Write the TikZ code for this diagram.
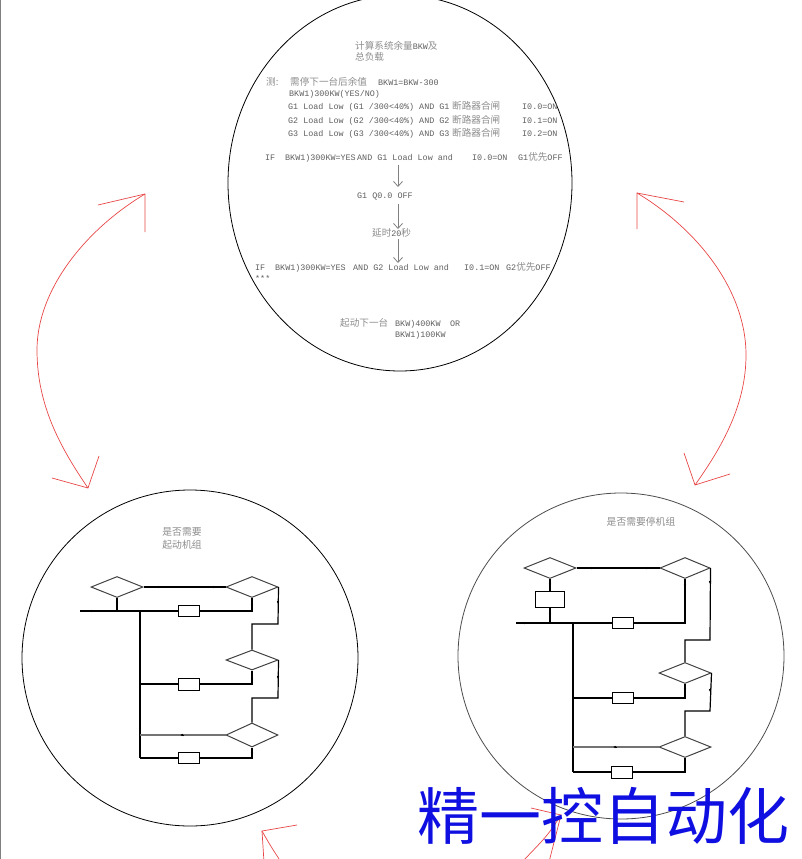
\documentclass[tikz,border=0pt]{standalone}
\usepackage{fontspec}
\setmainfont{Liberation Mono}
\newfontfamily\cjk{Noto Sans CJK SC}
\usetikzlibrary{arrows.meta,shapes.geometric}
\definecolor{txt}{RGB}{95,95,95}
\definecolor{ltxt}{RGB}{140,140,140}
\definecolor{arrred}{RGB}{232,70,70}
\definecolor{wmblue}{RGB}{15,15,225}
\newcommand\zh[1]{{\cjk\fontsize{9.6pt}{12pt}\selectfont\color{ltxt}#1}}
\begin{document}
\begin{tikzpicture}[x=1pt,y=-1pt,
  txtl/.style={anchor=base west,inner sep=0pt,text=txt,font=\fontsize{8.4pt}{10pt}\selectfont},
  ttl/.style={inner sep=0pt,text=ltxt,font=\cjk\fontsize{9.8pt}{13pt}\selectfont,align=center},
  garrow/.style={draw=gray,line width=0.8pt,-{Straight Barb[length=5pt,width=9pt]}},
  redln/.style={draw=arrred,line width=0.7pt},
  fl/.style={draw=black,line width=1.2pt},
  dia/.style={diamond,draw=black!75,line width=1pt,inner sep=0pt,minimum width=52pt,minimum height=21pt},
  bx/.style={rectangle,draw=black,line width=1pt,inner sep=0pt,minimum width=21pt,minimum height=11pt,fill=white},
  mk/.style={draw=black,line width=0.5pt,-{Latex[length=3pt,width=2.6pt]}}
]
\useasboundingbox (0,0) rectangle (802,859);
\begin{scope}
\clip (0,0) rectangle (802,859);
% left border
\draw[gray,line width=1.2pt] (0.6,0) -- (0.6,859);

% ---------- circles ----------
\draw[black,line width=0.8pt] (400,183) ellipse [x radius=172pt,y radius=188pt];
\draw[black,line width=0.8pt] (190,658) circle [radius=168pt];
\draw[black!70,line width=0.8pt] (621,656) circle [radius=163pt];

% ---------- top circle text ----------
\node[txtl] (t1) at (355,49) {\zh{计算系统余量}BKW\zh{及}};
\node[txtl] (t2) at (355,61) {\zh{总负载}};
\node[txtl] (t3a) at (266,85.5) {\zh{测:}};
\node[txtl] (t3b) at (290,85.5) {\zh{需停下一台后余值}};
\node[txtl] (t3c) at (378,85.5) {BKW1=BKW-300};
\node[txtl] (t4) at (289,96) {BKW1)300KW(YES/NO)};
\node[txtl] (t5a) at (288,109.5) {G1 Load Low (G1 /300<40\%) AND G1};
\node[txtl] (t5b) at (452,109.5) {\zh{断路器合闸}};
\node[txtl] (t5c) at (522,109.5) {I0.0=ON};
\node[txtl] (t6a) at (288,123.5) {G2 Load Low (G2 /300<40\%) AND G2};
\node[txtl] (t6b) at (452,123.5) {\zh{断路器合闸}};
\node[txtl] (t6c) at (522,123.5) {I0.1=ON};
\node[txtl] (t7a) at (288,136.5) {G3 Load Low (G3 /300<40\%) AND G3};
\node[txtl] (t7b) at (452,136.5) {\zh{断路器合闸}};
\node[txtl] (t7c) at (522,136.5) {I0.2=ON};

\node[txtl] (i1a) at (265,160.5) {IF};
\node[txtl] (i1b) at (285,160.5) {BKW1)300KW=YES};
\node[txtl] (i1c) at (357,160.5) {AND G1 Load Low and};
\node[txtl] (i1d) at (472,160.5) {I0.0=ON};
\node[txtl] (i1e) at (518,160.5) {G1\zh{优先}OFF};

\node[txtl] (q1) at (357,198.5) {G1 Q0.0 OFF};
\node[txtl] (dl) at (372,236.5) {\zh{延时}20\zh{秒}};

\node[txtl] (i2a) at (255,270.5) {IF};
\node[txtl] (i2b) at (275,270.5) {BKW1)300KW=YES};
\node[txtl] (i2c) at (353,270.5) {AND G2 Load Low and};
\node[txtl] (i2d) at (464,270.5) {I0.1=ON};
\node[txtl] (i2e) at (506,270.5) {G2\zh{优先}OFF};
\node[txtl] (st) at (255,281) {***};

\node[txtl] (s1a) at (340,326) {\zh{起动下一台}};
\node[txtl] (s1b) at (395,326) {BKW)400KW};
\node[txtl] (s1c) at (450,326) {OR};
\node[txtl] (s2) at (395,337) {BKW1)100KW};

\coordinate (a1s) at (398,165); \coordinate (a1e) at (398,187);
\coordinate (a2s) at (398,204); \coordinate (a2e) at (398,229);
\coordinate (a3s) at (398,239); \coordinate (a3e) at (398,263);
\draw[garrow] (a1s) -- (a1e);
\draw[garrow] (a2s) -- (a2e);
\draw[garrow] (a3s) -- (a3e);

% ---------- left circle ----------
\node[ttl] (lt) at (182,539) {是否需要\\起动机组};
\node[dia] (ld1) at (117,587) {};
\node[dia] (ld2) at (252,587) {};
\node[bx] (lb1) at (188.5,611) {};
\node[dia,minimum height=20pt] (ld3) at (252,660) {};
\node[bx,minimum height=12pt] (lb2) at (188.5,684) {};
\node[dia,minimum height=24pt] (ld4) at (252,735) {};
\node[bx] (lb3) at (188.5,758) {};
\coordinate (lin) at (80,611);
\coordinate (lt0) at (140,611);
\coordinate (lt1) at (140,758);
\coordinate (lk1) at (278,624);
\coordinate (lk2) at (278,698);
\draw[fl] (lin) -- (lb1.west);
\draw[fl] (ld1.south) -- (ld1.south |- lin);
\draw[fl] (ld1.east) -- (ld2.west);
\draw[fl] (lb1.east) -| (ld2.south);
\draw[fl] (ld2.east) -- (lk1) -| (ld3.north);
\draw[fl] (lt0) -- (lt1);
\draw[fl] (ld3.south) |- (lb2.east);
\draw[fl] (lb2.west) -- (lb2.west -| lt0);
\draw[fl] (ld3.east) -- (lk2) -| (ld4.north);
\draw[draw=black!55,line width=1.2pt] (ld4.west) -- (ld4.west -| lt0);
\draw[fl] (ld4.south) |- (lb3.east);
\draw[fl] (lb3.west) -- (lt1);
\draw[mk] (90,611) -- (94,611);
\draw[mk] (157,587) -- (161,587);
\draw[mk] (212,587) -- (216,587);
\draw[mk] (117,604) -- (117,600);
\draw[mk] (252,606) -- (252,602);
\draw[mk] (278,600) -- (278,604);
\draw[mk] (252,680) -- (252,676);
\draw[mk] (278,675) -- (278,679);
\draw[mk] (184,735) -- (180,735);
\draw[mk] (252,754) -- (252,750);

% ---------- right circle ----------
\node[ttl] (rt) at (641,522) {是否需要停机组};
\node[dia] (rd1) at (550,568) {};
\node[dia,minimum width=50pt] (rd2) at (685,568) {};
\node[bx,minimum width=29pt,minimum height=16pt] (rb0) at (550,599) {};
\node[bx] (rb1) at (623,623) {};
\node[dia] (rd3) at (685,673) {};
\node[bx] (rb2) at (622.5,698) {};
\node[dia] (rd4) at (685,747) {};
\node[bx,minimum height=12pt] (rb3) at (622,772) {};
\coordinate (rin) at (516,623);
\coordinate (rt0) at (573,623);
\coordinate (rt1) at (573,772);
\coordinate (rk1) at (710,640);
\coordinate (rk2) at (710,711);
\draw[fl] (rin) -- (rb1.west);
\draw[fl] (rd1.south) -- (rb0.north);
\draw[fl] (rb0.south) -- (rb0.south |- rin);
\draw[fl] (rd1.east) -- (rd2.west);
\draw[fl] (rb1.east) -| (rd2.south);
\draw[fl] (rd2.east) -- (rk1) -| (rd3.north);
\draw[fl] (rt0) -- (rt1);
\draw[fl] (rd3.south) |- (rb2.east);
\draw[fl] (rb2.west) -- (rb2.west -| rt0);
\draw[fl] (rd3.east) -- (rk2) -| (rd4.north);
\draw[draw=black!55,line width=1.2pt] (rd4.west) -- (rd4.west -| rt0);
\draw[fl] (rd4.south) |- (rb3.east);
\draw[fl] (rb3.west) -- (rt1);
\draw[mk] (523,623) -- (527,623);
\draw[mk] (590,568) -- (594,568);
\draw[mk] (645,568) -- (649,568);
\draw[mk] (550,585) -- (550,581);
\draw[mk] (550,615) -- (550,611);
\draw[mk] (685,586) -- (685,582);
\draw[mk] (710,580) -- (710,584);
\draw[mk] (685,690) -- (685,686);
\draw[mk] (710,688) -- (710,692);
\draw[mk] (617,747) -- (613,747);
\draw[mk] (685,765) -- (685,761);

% ---------- red arrows ----------
\coordinate (ra1) at (145,194);
\coordinate (ra2) at (37,350);
\coordinate (ra3) at (88,488);
\draw[redln] (ra1) .. controls (85,230) and (37,290) .. (ra2) .. controls (37,405) and (60,447) .. (ra3);
\draw[redln] (98,205) -- (ra1) -- (145,232);
\draw[redln] (52,478) -- (ra3) -- (99,456);

\coordinate (rb1a) at (637,193);
\coordinate (rb2a) at (746,355);
\coordinate (rb3a) at (695,485);
\draw[redln] (rb1a) .. controls (697,229) and (746,290) .. (rb2a) .. controls (746,405) and (722,447) .. (rb3a);
\draw[redln] (684,202) -- (rb1a) -- (637,229);
\draw[redln] (684,453) -- (rb3a) -- (730,474);

\coordinate (rc1) at (262,831);
\draw[redln] (rc1) .. controls (270,845) .. (281,862);
\draw[redln] (297,825) -- (rc1) -- (264,862);
\coordinate (rd1a) at (561,815);
\draw[redln] (rd1a) .. controls (548,835) .. (522,862);
\draw[redln] (531,808) -- (rd1a) -- (549,862);

% ---------- watermark ----------
\node[inner sep=0pt,text=wmblue,font=\cjk\fontsize{62pt}{62pt}\selectfont] (wm) at (603,816) {精一控自动化};
\end{scope}
\end{tikzpicture}
\end{document}
